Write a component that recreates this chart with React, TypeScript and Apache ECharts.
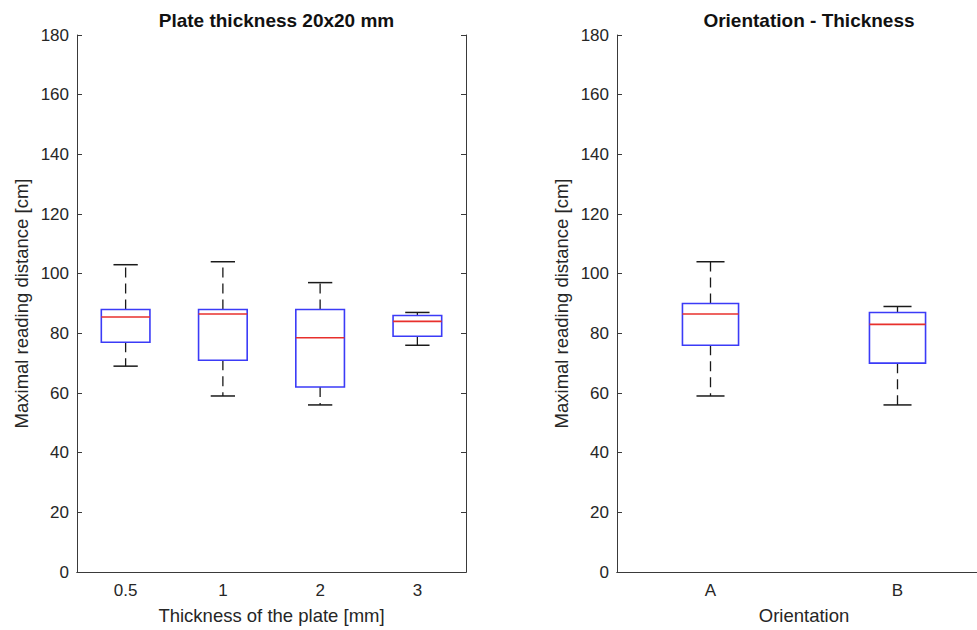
import React, { useEffect, useRef } from "react";
import * as echarts from "echarts";

// Plate thickness panel: five-number summaries per thickness
const thicknessLabels = ["0.5", "1", "2", "3"];
const thicknessMin = [69, 59, 56, 76];
const thicknessQ1 = [77, 71, 62, 79];
const thicknessMedian = [85.5, 86.5, 78.5, 84];
const thicknessQ3 = [88, 88, 88, 86];
const thicknessMax = [103, 104, 97, 87];

// Orientation panel
const orientationLabels = ["A", "B"];
const orientationMin = [59, 56];
const orientationQ1 = [76, 70];
const orientationMedian = [86.5, 83];
const orientationQ3 = [90, 87];
const orientationMax = [104, 89];

const yTicks = { min: 0, max: 180, interval: 20 };

const FONT = "'Liberation Sans', Arial, Helvetica, sans-serif";
const TEXT = "#262626";
const AXIS = "#3a3a3a";

const buildRows = (
  mins: number[],
  q1: number[],
  med: number[],
  q3: number[],
  maxs: number[]
) => mins.map((m, i) => [i, m, q1[i], med[i], q3[i], maxs[i]]);

// MATLAB-style box: blue box, red median, dashed whiskers, short solid caps
const boxRenderer = (widthFrac: number) => (params: any, api: any) => {
  const i = api.value(0);
  const [cx, yMin] = api.coord([i, api.value(1)]);
  const yQ1 = api.coord([i, api.value(2)])[1];
  const yMed = api.coord([i, api.value(3)])[1];
  const yQ3 = api.coord([i, api.value(4)])[1];
  const yMax = api.coord([i, api.value(5)])[1];
  const band = api.size([1, 0])[0];
  const w = band * widthFrac;
  const cap = w / 2;
  const whisker = { stroke: "#1a1a1a", lineWidth: 1.3, lineDash: [10, 6] };
  const capStyle = { stroke: "#1a1a1a", lineWidth: 1.5 };
  return {
    type: "group",
    children: [
      { type: "line", shape: { x1: cx, y1: yQ3, x2: cx, y2: yMax }, style: whisker },
      { type: "line", shape: { x1: cx, y1: yQ1, x2: cx, y2: yMin }, style: whisker },
      { type: "line", shape: { x1: cx - cap / 2, y1: yMax, x2: cx + cap / 2, y2: yMax }, style: capStyle },
      { type: "line", shape: { x1: cx - cap / 2, y1: yMin, x2: cx + cap / 2, y2: yMin }, style: capStyle },
      {
        type: "rect",
        shape: { x: cx - w / 2, y: yQ3, width: w, height: yQ1 - yQ3 },
        style: { fill: "none", stroke: "#3b3bf7", lineWidth: 1.6 },
      },
      {
        type: "line",
        shape: { x1: cx - w / 2, y1: yMed, x2: cx + w / 2, y2: yMed },
        style: { stroke: "#e8302c", lineWidth: 1.6 },
      },
    ],
  };
};

const grids = [
  { left: 77, top: 35, width: 389, height: 539 },
  { left: 617, top: 35, width: 374, height: 539 },
];

const xAxisFor = (gridIndex: number, labels: string[], name: string) => [
  {
    type: "category",
    gridIndex,
    data: labels,
    position: "bottom",
    name,
    nameLocation: "middle",
    nameGap: 34,
    nameTextStyle: { color: TEXT, fontSize: 18.5, fontFamily: FONT },
    axisLine: { lineStyle: { color: AXIS, width: 1 } },
    axisTick: { inside: true, length: 5, alignWithLabel: true, lineStyle: { color: AXIS } },
    axisLabel: { color: TEXT, fontSize: 17, fontFamily: FONT, margin: 10 },
    splitLine: { show: false },
  },
  {
    type: "category",
    gridIndex,
    data: labels,
    position: "top",
    axisLine: { lineStyle: { color: AXIS, width: 1 } },
    axisTick: { inside: true, length: 5, alignWithLabel: true, lineStyle: { color: AXIS } },
    axisLabel: { show: false },
    splitLine: { show: false },
  },
];

const yAxisFor = (gridIndex: number) => [
  {
    type: "value",
    gridIndex,
    position: "left",
    ...yTicks,
    name: "Maximal reading distance [cm]",
    nameLocation: "middle",
    nameGap: 46,
    nameTextStyle: { color: TEXT, fontSize: 18.5, fontFamily: FONT },
    axisLine: { show: true, lineStyle: { color: AXIS, width: 1 } },
    axisTick: { show: true, inside: true, length: 5, lineStyle: { color: AXIS } },
    axisLabel: { color: TEXT, fontSize: 17, fontFamily: FONT, margin: 8 },
    splitLine: { show: false },
  },
  {
    type: "value",
    gridIndex,
    position: "right",
    ...yTicks,
    axisLine: { show: true, lineStyle: { color: AXIS, width: 1 } },
    axisTick: { show: true, inside: true, length: 5, lineStyle: { color: AXIS } },
    axisLabel: { show: false },
    splitLine: { show: false },
  },
];

export default function App() {
  const ref = useRef<HTMLDivElement>(null);

  useEffect(() => {
    if (!ref.current) return;
    const chart = echarts.init(ref.current, undefined, { renderer: "svg" });
    chart.setOption({
      animation: false,
      backgroundColor: "#ffffff",
      title: [
        {
          text: "Plate thickness 20x20 mm",
          left: grids[0].left + grids[0].width / 2,
          top: 6,
          textAlign: "center",
          textStyle: { color: "#111", fontSize: 19, fontWeight: "bold", fontFamily: FONT },
        },
        {
          text: "Orientation - Thickness",
          left: grids[1].left + grids[1].width / 2,
          top: 6,
          textAlign: "center",
          textStyle: { color: "#111", fontSize: 19, fontWeight: "bold", fontFamily: FONT },
        },
      ],
      grid: grids,
      xAxis: [
        ...xAxisFor(0, thicknessLabels, "Thickness of the plate [mm]"),
        ...xAxisFor(1, orientationLabels, "Orientation"),
      ],
      yAxis: [...yAxisFor(0), ...yAxisFor(1)],
      series: [
        {
          type: "custom",
          xAxisIndex: 0,
          yAxisIndex: 0,
          renderItem: boxRenderer(0.5),
          encode: { x: 0, y: [1, 2, 3, 4, 5] },
          data: buildRows(thicknessMin, thicknessQ1, thicknessMedian, thicknessQ3, thicknessMax),
        },
        {
          type: "custom",
          xAxisIndex: 2,
          yAxisIndex: 2,
          renderItem: boxRenderer(0.3),
          encode: { x: 0, y: [1, 2, 3, 4, 5] },
          data: buildRows(orientationMin, orientationQ1, orientationMedian, orientationQ3, orientationMax),
        },
      ],
    });
    return () => chart.dispose();
  }, []);

  return (
    <div
      style={{
        position: "fixed",
        left: 0,
        top: 0,
        width: 977,
        height: 630,
        overflow: "hidden",
        background: "#fff",
      }}
    >
      <div ref={ref} style={{ width: 1000, height: 630 }} />
    </div>
  );
}
